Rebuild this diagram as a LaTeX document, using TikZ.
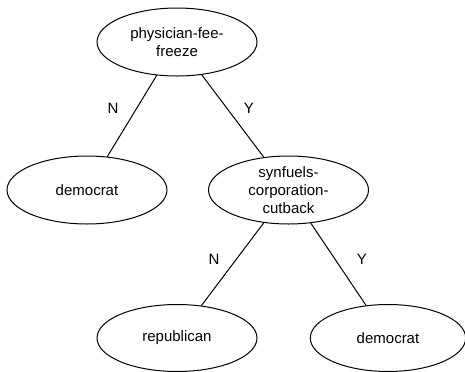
\documentclass[tikz,border=0pt]{standalone}
\usepackage{fontspec}
\setmainfont{Liberation Sans}
\usetikzlibrary{shapes.geometric}
\begin{document}
\begin{tikzpicture}[x=0.75pt,y=-0.75pt,
  treenode/.style={ellipse,draw=black,line width=0.75pt,minimum width=120pt,minimum height=51pt,inner sep=0pt},
  nodetext/.style={align=center,font=\fontsize{11.25}{13.3}\selectfont,inner sep=0pt},
  branch/.style={draw=black,line width=0.75pt},
  edgelabel/.style={font=\fontsize{11.25}{13.3}\selectfont,inner sep=0pt}]
\useasboundingbox (0,0) rectangle (465,372);
\clip (0,0) rectangle (465,372);
\node[treenode,label={[nodetext]center:physician-fee-\\freeze}] (root) at (177,42) {};
\node[treenode,label={[nodetext]center:democrat}] (demA) at (87,190) {};
\node[treenode,label={[nodetext]center:synfuels-\\corporation-\\cutback}] (syn) at (288.5,190) {};
\node[treenode,minimum height=50.25pt,label={[nodetext]center:republican}] (rep) at (177,338) {};
\node[treenode,minimum height=50.25pt,minimum width=116.5pt,label={[nodetext]center:democrat}] (demB) at (388,338) {};
\draw[branch] (root) -- (demA);
\draw[branch] (root) -- (syn);
\draw[branch] (syn) -- (rep);
\draw[branch] (syn) -- (demB);
\node[edgelabel] (l1) at (113,108) {N};
\node[edgelabel] (l2) at (249,108) {Y};
\node[edgelabel] (l3) at (214,259) {N};
\node[edgelabel] (l4) at (362,259) {Y};
\end{tikzpicture}
\end{document}
